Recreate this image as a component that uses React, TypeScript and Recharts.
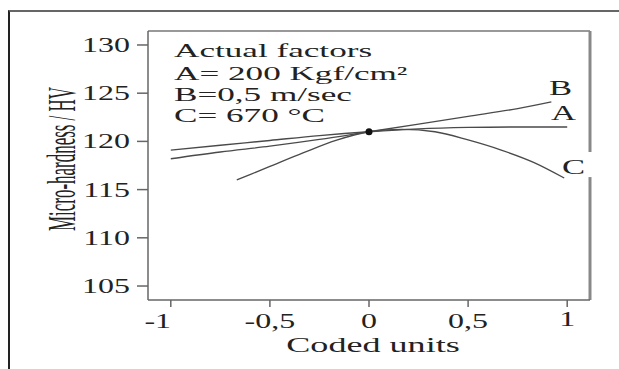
import React from 'react'
import { LineChart, Line, XAxis, YAxis, ReferenceLine, ReferenceDot } from 'recharts'

// coded factor levels and the response
const xA = [-1, -0.75, -0.5, -0.25, 0, 0.25, 0.5, 0.75, 1]
const hardnessA = [119.1, 119.6, 120.1, 120.6, 121.0, 121.3, 121.45, 121.5, 121.5]

const xB = [-1, -0.75, -0.5, -0.25, 0, 0.25, 0.5, 0.75, 0.92]
const hardnessB = [118.2, 118.9, 119.5, 120.2, 121.0, 121.8, 122.6, 123.4, 124.1]

const xC = [-0.667, -0.5, -0.333, -0.167, 0, 0.167, 0.333, 0.5, 0.667, 0.833, 0.985]
const hardnessC = [116.0, 117.4, 118.8, 120.1, 121.0, 121.25, 121.0, 120.15, 119.1, 117.8, 116.2]

const centerPoint = { x: 0, y: 121 }

const xTicks = [-1, -0.5, 0, 0.5, 1]
const yTicks = [105, 110, 115, 120, 125, 130]

const factorLines = ['Actual factors', 'A= 200 Kgf/cm²', 'B=0,5 m/sec', 'C= 670 °C']

const X_DOMAIN: [number, number] = [-1.115, 1.115]
const Y_DOMAIN: [number, number] = [103.55, 131.45]

const zip = (xs: number[], ys: number[]) => xs.map((x, i) => ({ x, y: ys[i] }))

const INK = '#4a4a4a'
const FONT = '"Liberation Serif", "Times New Roman", serif'
const SX = 1.65

function WideText({ x, y, children, size = 21, anchor = 'start', sx = SX }: {
  x: number; y: number; children: React.ReactNode; size?: number; anchor?: 'start' | 'middle' | 'end'; sx?: number
}) {
  return (
    <text
      transform={`translate(${x},${y}) scale(${sx},1)`}
      textAnchor={anchor}
      fontFamily={FONT}
      fontSize={size}
      fill="#222"
    >
      {children}
    </text>
  )
}

const fmt = (v: number) => String(v).replace('.', ',')

function XTick({ x, y, payload }: any) {
  const v = payload.value as number
  const dx = v === -1 ? -13 : 0
  const dy = v === 1 ? -2 : 0
  return <WideText x={x + dx} y={y + 17 + dy} size={20} anchor="middle" sx={1.6}>{fmt(v)}</WideText>
}

function YTick({ x, y, payload }: any) {
  return <WideText x={x} y={y + 7} size={20} anchor="end" sx={1.6}>{payload.value}</WideText>
}

export default function App() {
  return (
    <div style={{ position: 'fixed', left: 0, top: 0, width: 619, height: 369, background: '#fff' }}>
      <div style={{
        position: 'absolute', left: 8, top: 10, width: 611, height: 359,
        borderTop: '2px solid #666', borderLeft: '2px solid #222', boxSizing: 'border-box',
      }} />
      <div style={{ position: 'absolute', left: 0, top: 0 }}>
        <LineChart width={619} height={369} margin={{ top: 31, right: 29, bottom: 0, left: 0 }}>
          <XAxis
            type="number"
            dataKey="x"
            domain={X_DOMAIN}
            ticks={xTicks}
            allowDataOverflow
            height={69}
            tickSize={7}
            tickMargin={4}
            axisLine={{ stroke: '#666', strokeWidth: 1.5 }}
            tickLine={{ stroke: '#666', strokeWidth: 1.5 }}
            tick={<XTick />}
          />
          <YAxis
            type="number"
            domain={Y_DOMAIN}
            ticks={yTicks}
            allowDataOverflow
            width={148}
            tickSize={11}
            tickMargin={7}
            axisLine={{ stroke: '#666', strokeWidth: 1.5 }}
            tickLine={{ stroke: '#666', strokeWidth: 1.5 }}
            tick={<YTick />}
          />
          <ReferenceLine y={Y_DOMAIN[1]} stroke="#777" strokeWidth={1.5} />
          <ReferenceLine
            segment={[{ x: X_DOMAIN[1], y: Y_DOMAIN[0] }, { x: X_DOMAIN[1], y: 116.3 }]}
            stroke="#888" strokeWidth={3}
          />
          <ReferenceLine
            segment={[{ x: X_DOMAIN[1], y: 118.9 }, { x: X_DOMAIN[1], y: Y_DOMAIN[1] }]}
            stroke="#888" strokeWidth={3}
          />
          <Line data={zip(xA, hardnessA)} dataKey="y" type="monotone" stroke={INK} strokeWidth={1.4} dot={false} isAnimationActive={false} />
          <Line data={zip(xB, hardnessB)} dataKey="y" type="monotone" stroke={INK} strokeWidth={1.3} dot={false} isAnimationActive={false} />
          <Line data={zip(xC, hardnessC)} dataKey="y" type="monotone" stroke={INK} strokeWidth={1.3} dot={false} isAnimationActive={false} />
          <ReferenceDot x={centerPoint.x} y={centerPoint.y} r={3.5} fill="#111" stroke="none" />
        </LineChart>
      </div>
      <svg width={619} height={369} style={{ position: 'absolute', left: 0, top: 0, pointerEvents: 'none' }}>
        {factorLines.map((t, i) => (
          <WideText key={t} x={174} y={[57, 80, 101, 122][i]} size={19} sx={1.85}>{t}</WideText>
        ))}
        <WideText x={549} y={95}>B</WideText>
        <WideText x={551} y={120}>A</WideText>
        <WideText x={562} y={174}>C</WideText>
        <WideText x={373} y={352} size={21} anchor="middle" sx={1.72}>Coded units</WideText>
        <text
          transform="translate(75,159) scale(1.8,1) rotate(-90)"
          textAnchor="middle"
          fontFamily={FONT}
          fontSize={22}
          textLength={144}
          lengthAdjust="spacingAndGlyphs"
          fill="#222"
        >
          Micro-hardness / HV
        </text>
      </svg>
    </div>
  )
}
